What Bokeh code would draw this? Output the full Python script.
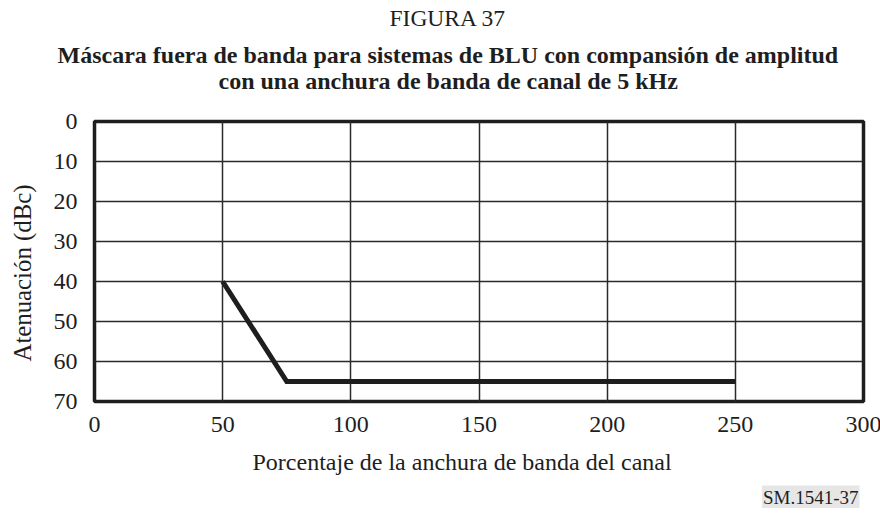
from bokeh.plotting import figure
from bokeh.models import Range1d, FixedTicker, Title
from bokeh.embed import file_html
from bokeh.resources import INLINE

# data
x_pct = [50, 75, 250]
y_att = [40, 65, 65]
x_ticks = [0, 50, 100, 150, 200, 250, 300]
y_ticks = [0, 10, 20, 30, 40, 50, 60, 70]

fig_title = "FIGURA 37"
sub_title_1 = "Máscara fuera de banda para sistemas de BLU con compansión de amplitud"
sub_title_2 = "con una anchura de banda de canal de 5 kHz"
x_label = "Porcentaje de la anchura de banda del canal"
y_label = "Atenuación (dBc)"
ref_tag = "SM.1541-37"

FONT = "Liberation Serif"
INK = "#1e1e1e"

p = figure(frame_width=769, frame_height=280,
           output_backend="svg", toolbar_location=None,
           x_range=Range1d(0, 300), y_range=Range1d(70, 0),
           min_border_left=0, min_border_right=21,
           min_border_top=0, min_border_bottom=0)
p.title = None

p.line(x_pct, y_att, line_width=5, line_color=INK, line_join="miter")

for ax, ticks in ((p.xaxis, x_ticks), (p.yaxis, y_ticks)):
    ax.ticker = FixedTicker(ticks=ticks)
    ax.axis_line_color = None
    ax.major_tick_line_color = None
    ax.minor_tick_line_color = None
    ax.major_tick_out = 0
    ax.major_tick_in = 0
    ax.major_label_text_font = FONT
    ax.major_label_text_font_size = "24px"
    ax.major_label_text_color = INK
p.xaxis.major_label_standoff = 15
p.yaxis.major_label_standoff = 17

p.xgrid.ticker = FixedTicker(ticks=x_ticks)
p.ygrid.ticker = FixedTicker(ticks=y_ticks)
p.grid.grid_line_color = "#2a2a2a"
p.grid.grid_line_width = 1.5
p.grid.grid_line_alpha = 1.0

p.outline_line_color = INK
p.outline_line_width = 3.5
p.outline_line_alpha = 1.0


def title(text, place, size="24px", style="normal", standoff=0.0, align="left",
          offset=0.0, valign="bottom", **kw):
    t = Title(text=text, text_font=FONT, text_font_size=size, text_font_style=style,
              text_color=INK, align=align, standoff=standoff, offset=offset,
              vertical_align=valign, **kw)
    p.add_layout(t, place)


def spacer(place, size, standoff):
    title(" ", place, size=size, standoff=standoff)


# above: listed from the frame outwards
spacer("above", "10px", 14.5)
title(sub_title_2, "above", "24px", "bold", -1.57, offset=124)
title(sub_title_1, "above", "24px", "bold", -1.57, offset=-37)
spacer("above", "4px", 0.8)
title(fig_title, "above", "23.5px", "normal", 5.16, offset=295)

# left: y axis, spacer, axis title
spacer("left", "4px", 0.57)
title(y_label, "left", "24.8px", "normal", 12.88, offset=40)

# below: x axis, spacer, axis title, spacer, tag
spacer("below", "8px", 1.14)
title(x_label, "below", "24px", "normal", 0.0, offset=158)
spacer("below", "6px", 1.16)
title(ref_tag, "below", "19px", "normal", 0.0, align="right", offset=4,
      background_fill_color="#e6e6e6", background_fill_alpha=1.0, padding=1)

open("out.html", "w").write(file_html(p, INLINE))
